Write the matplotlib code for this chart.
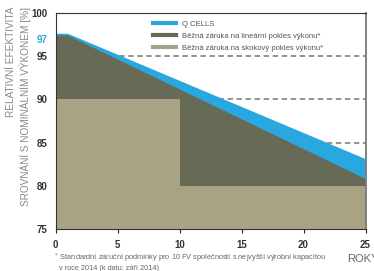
import matplotlib
matplotlib.use("Agg")
import matplotlib.pyplot as plt
from matplotlib.lines import Line2D

plt.rcParams['font.family'] = ['Liberation Sans Narrow', 'Liberation Sans', 'DejaVu Sans']

years = [0, 1, 25]
qcells = [97.6, 97.6, 83.1]
linear = [97.4, 97.4, 80.8]
step_years = [0, 10, 10, 25]
step_vals = [90, 90, 80, 80]
x_ticks = [0, 5, 10, 15, 20, 25]
y_ticks = [75, 80, 85, 90, 95, 97, 100]
legend_labels = ["Q CELLS", "Běžná záruka na lineární pokles výkonu*",
                 "Běžná záruka na skokový pokles výkonu*"]

c_blue = '#29a8e0'
c_dark = '#676a55'
c_khaki = '#a8a384'

fig = plt.figure(figsize=(3.74, 2.71), dpi=100)
ax = fig.add_axes([55.5/374, 42/271, 310/374, 216/271])

ax.fill_between(years, qcells, 0, color=c_blue, lw=0, zorder=2)
ax.fill_between(years, linear, 0, color=c_dark, lw=0, zorder=3)
ax.fill_between(step_years, step_vals, 0, color=c_khaki, lw=0, zorder=4)

for v in [80, 85, 90, 95]:
    ax.axhline(v, color='#8a8a8a', ls=(0, (3, 2)), lw=1.3, zorder=1)

ax.set_xlim(0, 25)
ax.set_ylim(75, 100)
ax.set_xticks(x_ticks)
ax.set_yticks(y_ticks)
ax.set_xticklabels([str(t) for t in x_ticks], fontsize=7, fontweight='bold', color='#333333')
ax.set_yticklabels([str(t) for t in y_ticks], fontsize=7, fontweight='bold', color='#333333')
for lbl in ax.get_yticklabels():
    if lbl.get_text() == '97':
        lbl.set_color(c_blue)
ax.tick_params(axis='x', length=3, width=0.8, color='#222222', pad=5)
ax.tick_params(axis='y', length=0, pad=6)

for s in ['left', 'bottom', 'top']:
    ax.spines[s].set_color('#333333')
    ax.spines[s].set_linewidth(0.8)
ax.spines['right'].set_color('#777777')
ax.spines['right'].set_linewidth(1.3)
for s in ax.spines.values():
    s.set_zorder(6)

handles = [Line2D([], [], color=c, lw=3) for c in [c_blue, c_dark, c_khaki]]
ax.legend(handles, legend_labels, loc='upper left', bbox_to_anchor=(0.3, 0.985),
          frameon=False, fontsize=5.5, labelcolor='#555555', handlelength=3.0,
          handletextpad=0.8, labelspacing=0.6, borderaxespad=0.2)

fig.text(18.5/374, 1 - 7/271, "RELATIVNÍ EFEKTIVITA\nSROVNÁNÍ S NOMINÁLNÍM VÝKONEM [%]",
         rotation=90, ha='center', va='top', multialignment='right',
         fontsize=7.2, color='#888888', linespacing=1.45)

fig.text(347/374, 1 - 259/271, "ROKY", fontsize=8, color='#666666', va='center', ha='left')

fig.text(53/374, 1 - 262/271,
         "$^*$ Standardní záruční podmínky pro 10 FV společností s nejvyšší výrobní kapacitou\n   v roce 2014 (k datu: září 2014)",
         fontsize=5.3, color='#666666', va='center', ha='left', linespacing=1.1)

fig.savefig('out.png', dpi=100)
